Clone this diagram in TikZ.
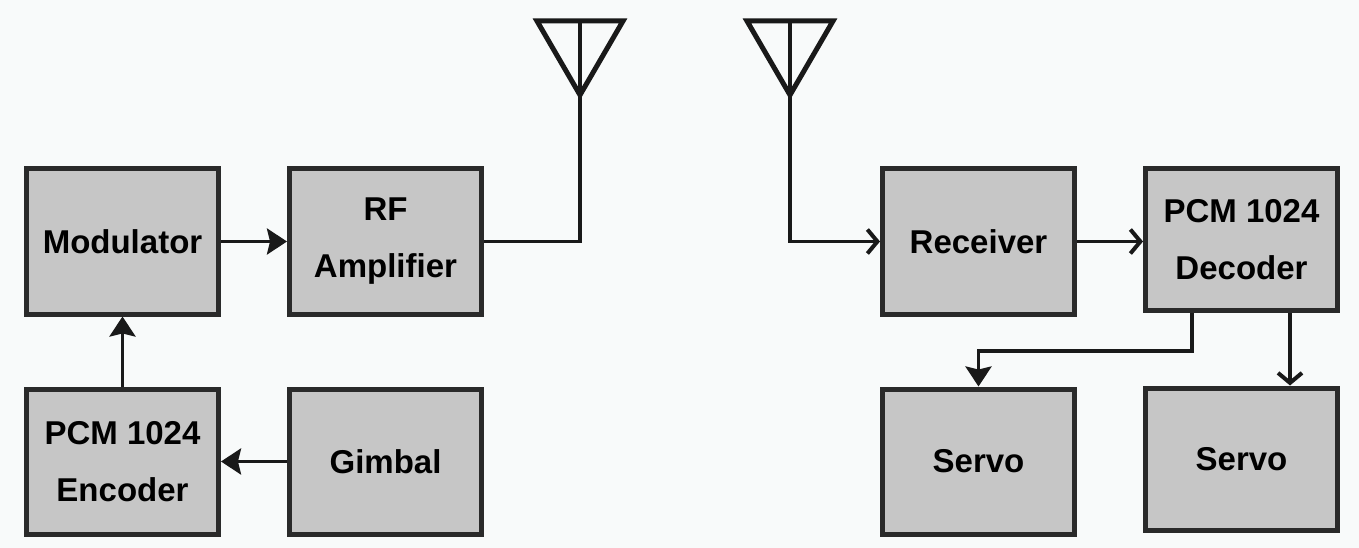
\documentclass[tikz,border=0pt]{standalone}
\usepackage{fontspec}
\setmainfont{Liberation Sans}
\usetikzlibrary{arrows.meta,calc}
\definecolor{boxfill}{HTML}{C6C6C6}
\definecolor{boxline}{HTML}{2A2A2A}
\definecolor{bg}{HTML}{F8FAFA}
\tikzset{
  blk/.style={draw=boxline, line width=5pt, fill=boxfill, minimum width=192pt, minimum height=145pt,
    inner sep=0pt, align=center, font=\fontsize{33}{57}\selectfont\bfseries},
  conn/.style={draw=black!90, line width=3.5pt},
  larrow/.style={conn, -{Stealth[length=20pt,width=26pt,inset=3pt]}},
  rarrow/.style={conn, -{Straight Barb[length=10pt,width=24pt,line width=4pt]}},
  ant/.style={draw=black!90, line width=5pt, line join=miter},
}
\begin{document}
\begin{tikzpicture}[x=1pt,y=-1pt]
\fill[bg] (0,0) rectangle (1359,548);
\useasboundingbox (0,0) rectangle (1359,548);
% left side
\node[blk] (mod) at (122.5,241.5) {Modulator};
\node[blk] (rf)  at (385.5,241.5) {RF\\Amplifier};
\node[blk] (enc) at (122.5,461.5) {PCM 1024\\Encoder};
\node[blk] (gim) at (385.5,461.5) {Gimbal};
% right side
\node[blk] (rx)  at (978.5,241.5) {Receiver};
\node[blk, minimum height=142pt] (dec) at (1241.5,239.5) {PCM 1024\\Decoder};
\node[blk] (s1)  at (978.5,461.5) {Servo};
\node[blk, minimum height=142pt] (s2)  at (1241.5,459) {Servo};
% antennas
\coordinate (a1) at (580,95);
\coordinate (a1t) at (580,21);
\draw[ant] (537,21) -- (623,21) -- (a1) -- cycle;
\draw[ant, line width=3.5pt] (a1t) -- (a1);
\coordinate (a2) at (790,95);
\coordinate (a2t) at (790,21);
\draw[ant] (747,21) -- (833,21) -- (a2) -- cycle;
\draw[ant, line width=3.5pt] (a2t) -- (a2);
% connectors
\draw[larrow] (mod.east) -- (rf.west);
\draw[larrow] (enc.north) -- (mod.south);
\draw[larrow] (gim.west) -- (enc.west -| enc.east);
\draw[conn] (rf.east) -| (a1);
\draw[rarrow] (a2) |- (rx.west);
\draw[rarrow] (rx.east) -- (rx.east -| dec.west);
\draw[larrow] ($(dec.south)+(-49.5,0)$) -- ++(0,38) -| (s1.north);
\draw[rarrow] ($(dec.south)+(48.5,0)$) -- ($(s2.north)+(48.5,0)$);
\end{tikzpicture}
\end{document}
